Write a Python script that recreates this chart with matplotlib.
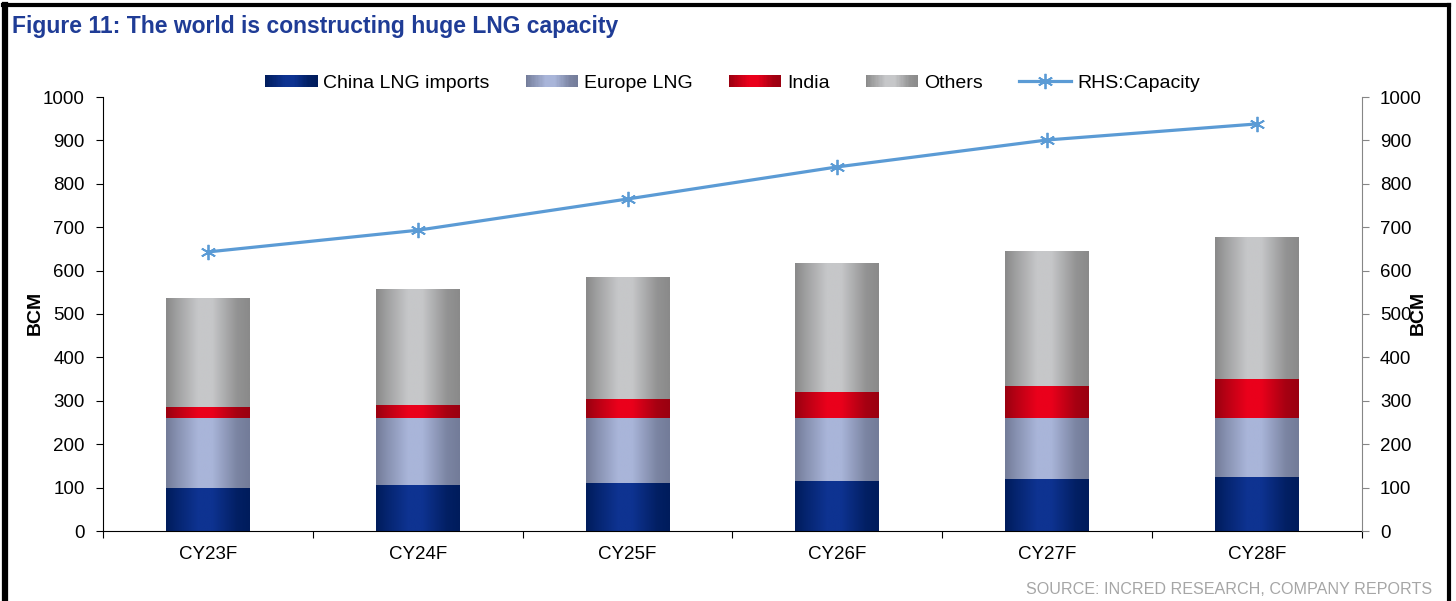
import numpy as np
import matplotlib
matplotlib.use("Agg")
import matplotlib.pyplot as plt
from matplotlib.patches import Rectangle
from matplotlib.legend_handler import HandlerBase
from matplotlib.colors import to_rgb
from matplotlib.lines import Line2D

plt.rcParams['font.family'] = ['Liberation Sans', 'DejaVu Sans']

# datos en BCM
categorias = ["CY23F", "CY24F", "CY25F", "CY26F", "CY27F", "CY28F"]
china = [100, 105, 110, 115, 120, 125]
europa = [160, 155, 150, 145, 140, 135]
india = [25, 30, 45, 60, 75, 90]
otros = [250, 265, 280, 295, 310, 325]
capacidad = [643, 693, 765, 839, 901, 938]

series = [
    ("China LNG imports", china, "#001c5c", "#0e3391"),
    ("Europe LNG", europa, "#737c99", "#a9b5d9"),
    ("India", india, "#9a0010", "#ea001b"),
    ("Others", otros, "#8a8a8a", "#c6c7c9"),
]

W, H = 1456, 601
fig = plt.figure(figsize=(W / 100, H / 100), dpi=100)


def perfil(n=64):
    # oscuro en los bordes, claro un poco a la izquierda del centro
    t = np.linspace(0, 1, n)
    return np.interp(t, [0, 0.12, 0.38, 0.55, 0.85, 1.0], [0, 0.35, 1, 1, 0.15, 0])


def gradiente(oscuro, claro, n=64):
    a = perfil(n)[:, None]
    c = np.array(to_rgb(oscuro)) * (1 - a) + np.array(to_rgb(claro)) * a
    return c[None, :, :]


class HandlerGradiente(HandlerBase):
    def create_artists(self, legend, orig_handle, xdescent, ydescent,
                       width, height, fontsize, trans):
        oscuro, claro = orig_handle
        cols = gradiente(oscuro, claro, 40)[0]
        n = len(cols)
        h = height * 0.85
        y0 = -ydescent + (height - h) / 2
        arts = []
        for i, c in enumerate(cols):
            r = Rectangle((-xdescent + width * i / n, y0), width / n * 1.05, h,
                          facecolor=c, edgecolor="none", transform=trans)
            arts.append(r)
        return arts


ax = fig.add_axes([103 / W, (H - 531) / H, (1362 - 103) / W, (531 - 97) / H])
x = np.arange(len(categorias))
base = np.zeros(len(categorias))
for nombre, vals, oscuro, claro in series:
    barras = ax.bar(x, vals, width=0.4, bottom=base, facecolor="none",
                    edgecolor="none")
    img = gradiente(oscuro, claro)
    for p in barras.patches:
        ax.imshow(img, extent=[p.get_x(), p.get_x() + p.get_width(),
                               p.get_y(), p.get_y() + p.get_height()],
                  aspect="auto", interpolation="bilinear", zorder=2)
    base = base + np.array(vals)

ax.set_xlim(-0.5, len(categorias) - 0.5)
ax.set_ylim(0, 1000)
ax.set_yticks(np.arange(0, 1001, 100))
ax.set_xticks(np.arange(-0.5, len(categorias), 1))
ax.set_xticklabels([])
ax.set_xticks(x, minor=True)
ax.set_xticklabels(categorias, minor=True)
ax.tick_params(axis="x", which="major", length=5, direction="out", color="black")
ax.tick_params(axis="x", which="minor", length=0, pad=11, labelsize=13.5)
ax.tick_params(axis="y", length=5, direction="out", labelsize=13.5, pad=8)
for s in ["top", "right"]:
    ax.spines[s].set_visible(False)
ax.spines["left"].set_color("black")
ax.spines["bottom"].set_color("black")

ax2 = ax.twinx()
ax2.plot(x, capacidad, color="#5b9bd5", linewidth=2.3, marker=(6, 2, 0),
         markersize=11, markeredgewidth=1.3, zorder=3)
ax2.set_ylim(0, 1000)
ax2.set_yticks(np.arange(0, 1001, 100))
ax2.tick_params(axis="y", length=5, direction="out", color="#868686",
                labelsize=13.5, pad=8)
for s in ["top", "left", "bottom"]:
    ax2.spines[s].set_visible(False)
ax2.spines["right"].set_color("#868686")

# leyenda
handles = [(o, c) for _, _, o, c in series]
handles.append(Line2D([], [], color="#5b9bd5", linewidth=2.3, marker=(6, 2, 0),
                      markersize=11, markeredgewidth=1.3))
etiquetas = [s[0] for s in series] + ["RHS:Capacity"]
ax.legend(handles, etiquetas, handler_map={tuple: HandlerGradiente()},
          loc="center", bbox_to_anchor=(0.5, (531 - 83) / (531 - 97)),
          ncol=5, frameon=False, fontsize=14, handlelength=2.7,
          handletextpad=0.3, columnspacing=1.85)

fig.text(35 / W, 1 - 313 / H, "BCM", rotation=90, fontsize=14,
         fontweight="bold", ha="center", va="center")
fig.text(1418 / W, 1 - 313 / H, "BCM", rotation=90, fontsize=14,
         fontweight="bold", ha="center", va="center")

fig.text(12 / W, 1 - 27 / H, "Figure 11: The world is constructing huge LNG capacity",
         fontsize=16.5, fontweight="bold", color="#1f3c96", ha="left", va="center")
fig.text(1432 / W, 1 - 590 / H, "SOURCE: INCRED RESEARCH, COMPANY REPORTS",
         fontsize=11.6, color="#a6a6a6", ha="right", va="center")

# marco
fig.add_artist(Line2D([5 / W, 5 / W], [0, 1 - 5 / H], color="black",
                      linewidth=4.5, transform=fig.transFigure))
fig.add_artist(Line2D([3 / W, 1449 / W], [1 - 5 / H, 1 - 5 / H], color="black",
                      linewidth=3, transform=fig.transFigure))
fig.add_artist(Line2D([1449 / W, 1449 / W], [0, 1 - 5 / H], color="black",
                      linewidth=3, transform=fig.transFigure))

fig.savefig("out.png", dpi=100)
